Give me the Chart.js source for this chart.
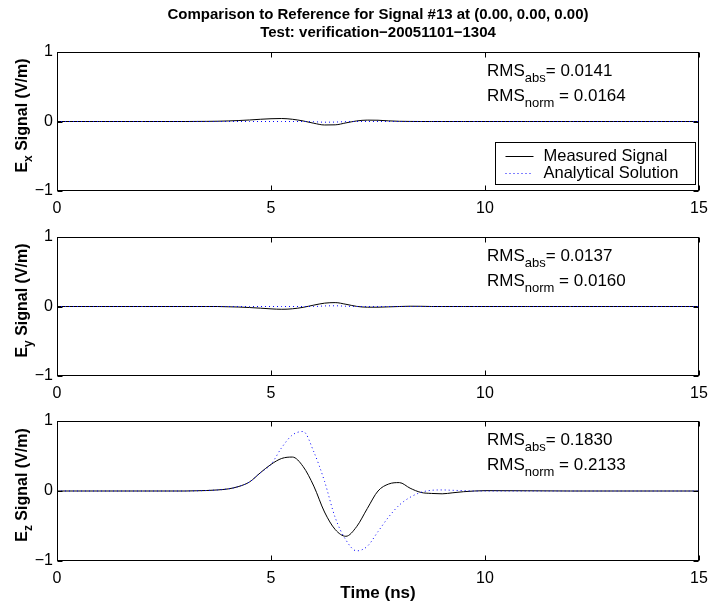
<!DOCTYPE html>
<html>
<head>
<meta charset="utf-8">
<script src="https://cdn.jsdelivr.net/npm/chart.js@4.4.0/dist/chart.umd.min.js"></script>
<style>
  body { margin:0; background:#fff; width:712px; height:608px; position:relative; overflow:hidden; }
  canvas { position:absolute; left:0; }
</style>
</head>
<body>
<canvas id="cx" width="712" height="221" style="top:0px"></canvas>
<canvas id="cy" width="712" height="181" style="top:225px"></canvas>
<canvas id="cz" width="712" height="199" style="top:409px"></canvas>
<script>
// time axis (ns)
const times = [0,1,2,3,3.25,3.5,3.75,4,4.25,4.5,4.75,5,5.25,5.5,5.75,6,6.25,6.5,6.75,7,7.25,7.5,7.75,8,8.25,8.5,8.75,9,9.25,9.5,9.75,10,11,12,13,14,15];

// E_x
const exMeasured   = [0,0,0,0,0.001,0.002,0.004,0.008,0.014,0.022,0.032,0.04,0.043,0.032,0.008,-0.025,-0.05,-0.048,-0.02,0.008,0.02,0.018,0.009,0.003,0.001,0,0,0,0,0,0,0,0,0,0,0,0];
const exAnalytical = [0,0,0,0,0,0,0,0,0,0,0,0,0,0,0,-0.003,-0.01,-0.008,-0.002,0,0,0,0,0,0,0,0,0,0,0,0,0,0,0,0,0,0];
// E_y
const eyMeasured   = [0,0,0,0,0,0,0,-0.004,-0.008,-0.015,-0.024,-0.034,-0.04,-0.033,-0.012,0.02,0.048,0.056,0.032,0.002,-0.01,-0.01,-0.005,0,0.004,0.003,0,0,0,0,0,0,0,0,0,0,0];
const eyAnalytical = [0,0,0,0,0,0,0,0,0,0,0,0,0,0,0,0,0.008,0.01,0.004,0,0,0,0,0,0,0,0,0,0,0,0,0,0,0,0,0,0];
// E_z
const ezMeasured   = [0,0,0,0,0.003,0.007,0.015,0.03,0.065,0.13,0.26,0.38,0.465,0.485,0.35,0.07,-0.3,-0.55,-0.647,-0.51,-0.25,0,0.1,0.12,0.04,-0.02,-0.035,-0.04,-0.025,-0.01,0,0.005,0.003,0,0,0,0];
const ezAnalytical = [0,0,0,0,0.003,0.007,0.015,0.03,0.065,0.13,0.26,0.38,0.62,0.8,0.85,0.56,0.14,-0.38,-0.7,-0.855,-0.79,-0.58,-0.37,-0.2,-0.09,-0.02,0.01,0.015,0.01,0.005,0,0,0,0,0,0,0];

const titleLines  = ['Comparison to Reference for Signal #13 at (0.00, 0.00, 0.00)', 'Test: verification\u221220051101\u22121304'];
const seriesNames = ['Measured Signal', 'Analytical Solution'];
const components  = ['x', 'y', 'z'];
const rmsAbs      = ['0.0141', '0.0137', '0.1830'];
const rmsNorm     = ['0.0164', '0.0160', '0.2133'];
const xTicks      = [0, 5, 10, 15];
const yTicks      = [-1, 0, 1];
const xLabel      = 'Time (ns)';

const FONT = "'Liberation Sans', Arial, Helvetica, sans-serif";
Chart.defaults.font.family = FONT;
Chart.defaults.color = '#000';

function drawSub(ctx, x, y, main, sub, rest) {
  ctx.font = '17px ' + FONT;
  ctx.fillText(main, x, y);
  x += ctx.measureText(main).width;
  ctx.font = '13px ' + FONT;
  ctx.fillText(sub, x, y + 6);
  x += ctx.measureText(sub).width;
  ctx.font = '17px ' + FONT;
  ctx.fillText(rest, x, y);
}

// MATLAB-like box, inward ticks, y label, RMS text and legend
const matlabFrame = {
  id: 'matlabFrame',
  afterDatasetsDraw(chart, args, o) {
    const {ctx, chartArea: a, scales} = chart;
    const l = a.left + 0.5, r = a.right - 0.5, t = a.top + 0.5, b = a.bottom - 0.5;
    ctx.save();
    ctx.strokeStyle = '#000';
    ctx.lineWidth = 1;
    ctx.setLineDash([]);
    ctx.strokeRect(l, t, r - l, b - t);
    ctx.beginPath();
    scales.x.ticks.forEach(tk => {
      const px = Math.round(scales.x.getPixelForValue(tk.value)) + 0.5;
      ctx.moveTo(px, b); ctx.lineTo(px, b - 5);
      ctx.moveTo(px, t); ctx.lineTo(px, t + 5);
    });
    scales.y.ticks.forEach(tk => {
      const py = Math.round(scales.y.getPixelForValue(tk.value)) + 0.5;
      ctx.moveTo(l, py); ctx.lineTo(l + 5, py);
      ctx.moveTo(r, py); ctx.lineTo(r - 5, py);
    });
    ctx.stroke();

    // y label with subscript
    ctx.fillStyle = '#000';
    ctx.textBaseline = 'alphabetic';
    ctx.textAlign = 'left';
    const cy = (a.top + a.bottom) / 2 - 6;
    ctx.save();
    ctx.translate(27, cy);
    ctx.rotate(-Math.PI / 2);
    ctx.font = 'bold 16px ' + FONT;
    const wE = ctx.measureText('E').width;
    const rest = ' Signal (V/m)';
    const wR = ctx.measureText(rest).width;
    ctx.font = 'bold 12px ' + FONT;
    const wS = ctx.measureText(o.comp).width;
    let sx = -(wE + wS + wR) / 2;
    ctx.font = 'bold 16px ' + FONT;
    ctx.fillText('E', sx, 0);
    ctx.font = 'bold 12px ' + FONT;
    ctx.fillText(o.comp, sx + wE, 5);
    ctx.font = 'bold 16px ' + FONT;
    ctx.fillText(rest, sx + wE + wS, 0);
    ctx.restore();

    // RMS numbers
    const x0 = a.left + 430;
    drawSub(ctx, x0, a.top + 24, 'RMS', 'abs', '= ' + o.abs);
    drawSub(ctx, x0, a.top + 49, 'RMS', 'norm', ' = ' + o.norm);

    if (o.legend) {
      const bx = Math.round(a.right) - 204 + 0.5, by = Math.round(a.bottom) - 49 + 0.5, bw = 200, bh = 42;
      ctx.fillStyle = '#fff';
      ctx.fillRect(bx, by, bw, bh);
      ctx.strokeStyle = '#000';
      ctx.strokeRect(bx, by, bw, bh);
      chart.data.datasets.forEach((ds, k) => {
        const ly = Math.round(by + 13 + k * 17) + 0.5;
        ctx.beginPath();
        ctx.strokeStyle = ds.borderColor;
        ctx.setLineDash(ds.borderDash || []);
        ctx.moveTo(bx + 10, ly); ctx.lineTo(bx + 38, ly);
        ctx.stroke();
        ctx.setLineDash([]);
        ctx.fillStyle = '#000';
        ctx.font = '16.5px ' + FONT;
        ctx.textBaseline = 'middle';
        ctx.fillText(ds.label, bx + 48, ly);
      });
    }
    ctx.restore();
  }
};

function makePanel(id, idx, measured, analytical, opts) {
  return new Chart(document.getElementById(id).getContext('2d'), {
    type: 'line',
    data: {
      datasets: [
        { label: seriesNames[0], data: times.map((t, i) => ({x: t, y: measured[i]})),
          borderColor: '#000000', borderWidth: 1, pointRadius: 0, cubicInterpolationMode: 'monotone', order: 1 },
        { label: seriesNames[1], data: times.map((t, i) => ({x: t, y: analytical[i]})),
          borderColor: '#0000ff', borderWidth: 1, borderDash: [1, 3], pointRadius: 0, cubicInterpolationMode: 'monotone', order: 0 }
      ]
    },
    options: {
      responsive: false, animation: false, devicePixelRatio: 1,
      layout: { padding: { top: opts.padTop, right: 13, left: 0, bottom: 0 } },
      plugins: {
        legend: { display: false },
        tooltip: { enabled: false },
        title: opts.title ? { display: true, text: titleLines, color: '#000', fullSize: false,
                 font: { size: 15, weight: 'bold' }, padding: { top: 6, bottom: 10 } } : { display: false },
        matlabFrame: { comp: components[idx], abs: rmsAbs[idx], norm: rmsNorm[idx], legend: idx === 0 }
      },
      scales: {
        x: {
          type: 'linear', min: 0, max: 15,
          afterBuildTicks: s => { s.ticks = xTicks.map(v => ({value: v})); },
          ticks: { color: '#000', font: { size: 16 }, padding: 8, maxRotation: 0, autoSkip: false },
          grid: { display: false, drawTicks: false }, border: { display: false },
          title: opts.xtitle ? { display: true, text: xLabel, color: '#000', font: { size: 17, weight: 'bold' }, padding: { top: 4, bottom: 4 } } : { display: false },
          afterFit: s => { s.height = opts.xh; s.paddingLeft = 0; s.paddingRight = 0; }
        },
        y: {
          min: -1, max: 1,
          afterBuildTicks: s => { s.ticks = yTicks.map(v => ({value: v})); },
          ticks: { color: '#000', font: { size: 16 }, padding: 4, callback: v => String(v).replace('-', '\u2212') },
          grid: { display: false, drawTicks: false }, border: { display: false },
          afterFit: s => { s.width = 57; s.paddingTop = 0; s.paddingBottom = 0; }
        }
      }
    },
    plugins: [matlabFrame]
  });
}

makePanel('cx', 0, exMeasured, exAnalytical, { padTop: 0, title: true, xh: 30 });
makePanel('cy', 1, eyMeasured, eyAnalytical, { padTop: 12, xh: 30 });
makePanel('cz', 2, ezMeasured, ezAnalytical, { padTop: 12, xh: 47, xtitle: true });
</script>
</body>
</html>
